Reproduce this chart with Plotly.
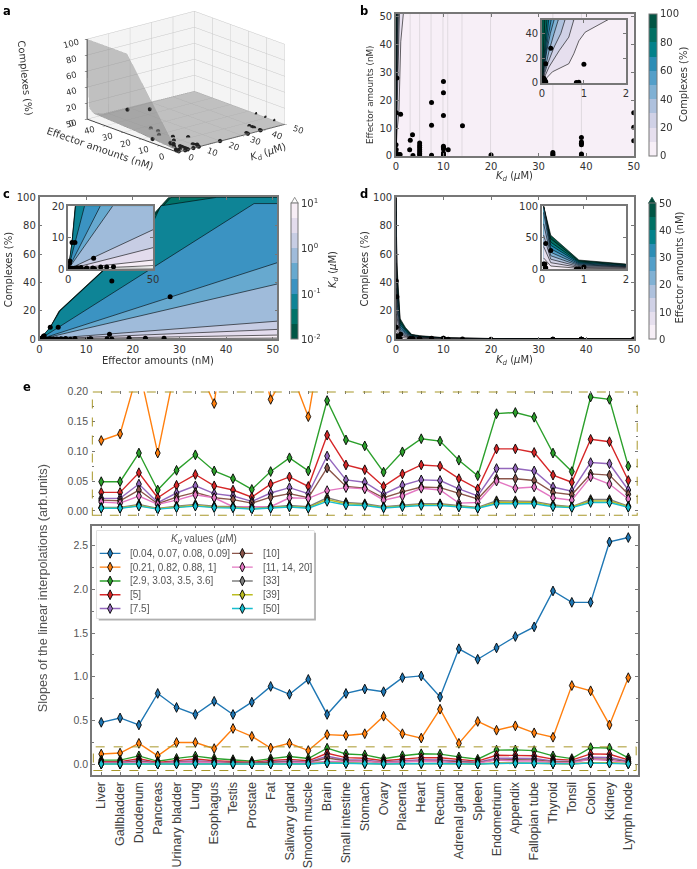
import plotly.graph_objects as go

W, H = 697, 869

# ---------- measured points (Kd, effector, complexes) ----------
kd_pts = [0.04, 0.07, 0.08, 0.09, 0.09, 0.21, 0.82, 0.88, 1, 2.9, 3.03, 3.5, 3.6, 5, 5, 5, 5, 5, 5, 5,
          7.5, 7.5, 7.5, 10, 10, 10, 10, 10, 10, 10, 10, 10, 11, 14, 20, 33, 33, 33, 39, 39, 39, 39, 39, 39, 50, 50, 50]
eff_pts = [4, 2.3, 1, 15.5, 0.8, 28, 0.4, 0.5, 15, 2.2, 5.6, 7.6, 0.1, 0.3, 0.8, 1.5, 2.2, 3, 3.7, 4.6,
           19.2, 11, 0.2, 26.7, 22.7, 14.5, 3.5, 3, 2.5, 1, 0.5, 0.2, 2.2, 10.8, 0.3, 1.2, 0.7, 0.3, 6.6, 5, 4.5, 4, 0.7, 0.4, 15.5, 10.3, 5.4]
cpx_pts = [8.5, 8.5, 2.6, 41, 2, 30, 0.4, 0.5, 3.5, 0.3, 0.5, 0.6, 0.02, 0.03, 0.06, 0.1, 0.15, 0.2, 0.3, 0.35,
           0.7, 0.4, 0.02, 0.8, 0.7, 0.4, 0.1, 0.1, 0.08, 0.03, 0.02, 0.01, 0.1, 0.25, 0.01, 0.03, 0.02, 0.01, 0.1, 0.08, 0.07, 0.06, 0.01, 0.01, 0.15, 0.1, 0.05]

# ---------- panel a surface ----------
surf_kd = [0.04, 0.21, 1, 3, 7.5, 50]
surf_eff = [0, 28, 51]
surf_z = [[0, 0, 0, 0, 0, 0],
          [100, 30, 6, 2, 1, 0.2],
          [100, 55, 13, 5, 2, 0.3]]

# ---------- panel b contour lines: Kd, effector ----------
b_lines = {
    10: ([0, 0.25, 0.64, 0.76, 0.88, 1.03, 1.57], [0, 9, 15.5, 23.6, 34, 41, 51]),
    20: ([0, 0.17, 0.41, 0.64, 0.76], [0, 13, 26, 37, 51]),
    30: ([0, 0.13, 0.29, 0.45, 0.55], [0, 15, 29, 40, 51]),
    40: ([0, 0.08, 0.17, 0.29, 0.39], [0, 13, 26, 40, 51]),
    50: ([0, 0.05, 0.11, 0.2, 0.29], [0, 12, 25, 40, 51]),
    60: ([0, 0.04, 0.09, 0.15, 0.22], [0, 10, 24, 38, 51]),
    70: ([0, 0.04, 0.07, 0.11, 0.16], [0, 12, 25, 38, 51]),
    80: ([0, 0.03, 0.06, 0.09, 0.12], [0, 15, 28, 40, 51]),
    90: ([0, 0.03, 0.05, 0.07], [0, 20, 35, 51]),
}
b_columns = [3, 5, 7.4, 9.9, 10.9, 13.9, 19.9, 33, 39]

# ---------- panel c contour lines: effector, complexes (top to bottom) ----------
c_lines = [
    ([0, 1, 2.3, 4.2, 13.4, 27.7, 51], [0, 3, 8.5, 20, 48, 100, 100]),
    ([0, 1, 2.3, 4.3, 13.5, 28.2, 51], [0, 3, 8.5, 20, 48, 100, 100]),
    ([0, 2.3, 4.4, 13.6, 24.7, 26, 38, 51], [0, 8.5, 20, 48, 85, 94, 100, 100]),
    ([0, 46, 51], [0, 95.6, 95.6]),
    ([0, 51], [0, 54]),
    ([0, 51], [0, 39]),
    ([0, 51], [0, 12.8]),
    ([0, 51], [0, 7]),
    ([0, 51], [0, 3]),
    ([0, 51], [0, 1.2]),
]
c_faint_x = [0, 51]
c_faint_y = [0.6, 0.3]

# ---------- panel d contour lines: complexes over Kd for each effector level ----------
d_kd = [0.04, 0.21, 0.88, 2, 3.3, 5, 10, 14, 20, 33, 50]
d_lines = {
    50: [100, 54, 14.7, 8.4, 3.5, 2.6, 1.2, 0.86, 0.6, 0.4, 0.25],
    45: [100, 48.5, 13.2, 7.6, 3.2, 2.3, 1.08, 0.77, 0.54, 0.36, 0.23],
    40: [100, 43, 11.8, 6.7, 2.8, 2.1, 0.96, 0.69, 0.48, 0.32, 0.2],
    35: [100, 38, 10.3, 5.9, 2.5, 1.8, 0.84, 0.6, 0.42, 0.28, 0.18],
    30: [100, 32.5, 8.8, 5, 2.1, 1.6, 0.72, 0.51, 0.36, 0.24, 0.15],
    25: [90, 27, 7.3, 4.2, 1.8, 1.3, 0.6, 0.43, 0.3, 0.2, 0.13],
    20: [72, 21.5, 5.9, 3.3, 1.4, 1.1, 0.48, 0.34, 0.24, 0.16, 0.1],
    15: [54, 16, 4.4, 2.5, 1.1, 0.8, 0.36, 0.26, 0.18, 0.12, 0.08],
    10: [36, 10.5, 3, 1.7, 0.7, 0.5, 0.24, 0.17, 0.12, 0.08, 0.05],
    5: [18, 5.2, 1.5, 0.8, 0.4, 0.3, 0.12, 0.08, 0.06, 0.04, 0.02],
}

# ---------- panel e ----------
tissues = ["Liver", "Gallbladder", "Duodenum", "Pancreas", "Urinary bladder", "Lung", "Esophagus", "Testis",
           "Prostate", "Fat", "Salivary gland", "Smooth muscle", "Brain", "Small intestine", "Stomach", "Ovary",
           "Placenta", "Heart", "Rectum", "Adrenal gland", "Spleen", "Endometrium", "Appendix", "Fallopian tube",
           "Thyroid", "Tonsil", "Colon", "Kidney", "Lymph node"]
s_blue = [.48, .53, .45, .81, .65, .57, .72, .57, .71, .89, .80, .97, .57, .81, .86, .83, .99, 1.01, .77, 1.32, 1.20, 1.33, 1.46, 1.57, 1.98, 1.85, 1.85, 2.54, 2.59]
s_orange = [.118, .129, .24, .097, .25, .25, .18, .41, .32, .187, .24, .158, .34, .33, .35, .55, .35, .30, .63, .24, .49, .39, .44, .36, .31, .90, .84, .45, .99]
s_green = [.049, .049, .097, .035, .068, .094, .067, .054, .036, .066, .089, .067, .185, .119, .109, .065, .099, .121, .117, .085, .059, .163, .165, .157, .097, .066, .191, .187, .075]
s_red = [.031, .031, .064, .022, .043, .061, .042, .035, .023, .045, .057, .041, .127, .077, .069, .041, .062, .077, .075, .054, .037, .104, .104, .098, .060, .048, .120, .116, .051]
s_purple = [.021, .021, .045, .014, .030, .042, .029, .025, .016, .030, .039, .029, .092, .052, .048, .028, .043, .052, .051, .037, .025, .071, .071, .067, .040, .033, .081, .079, .035]
s_brown = [.018, .017, .035, .012, .023, .031, .022, .019, .013, .023, .029, .022, .072, .041, .038, .022, .032, .040, .039, .029, .020, .054, .054, .051, .031, .027, .062, .060, .028]
s_pink = [.015, .013, .025, .011, .018, .027, .022, .007, .007, .007, .022, .021, .034, .039, .037, .018, .025, .038, .035, .013, .014, .050, .038, .040, .022, .018, .057, .045, .020]
s_gray = [.006, .006, .011, .004, .008, .011, .008, .007, .004, .007, .009, .007, .022, .014, .012, .007, .010, .012, .012, .009, .006, .017, .017, .016, .010, .007, .019, .019, .008]
s_olive = [.005, .005, .009, .0035, .0065, .009, .0065, .006, .0035, .0055, .0075, .0055, .019, .012, .0105, .006, .0085, .0105, .0105, .0075, .005, .0145, .0145, .014, .0085, .0065, .0165, .0165, .007]
s_cyan = [.0045, .0045, .008, .003, .0055, .008, .0055, .005, .003, .0045, .0065, .0045, .016, .010, .009, .005, .007, .009, .009, .0065, .0045, .012, .012, .012, .007, .0055, .014, .014, .006]
series = [("[0.04, 0.07, 0.08, 0.09]", "#1f77b4", s_blue), ("[0.21, 0.82, 0.88, 1]", "#ff7f0e", s_orange),
          ("[2.9, 3.03, 3.5, 3.6]", "#2ca02c", s_green), ("[5]", "#d62728", s_red), ("[7.5]", "#9467bd", s_purple),
          ("[10]", "#8c564b", s_brown), ("[11, 14, 20]", "#e377c2", s_pink), ("[33]", "#7f7f7f", s_gray),
          ("[39]", "#bcbd22", s_olive), ("[50]", "#17becf", s_cyan)]

# ---------- helpers ----------
PBG = ["#fff7fb", "#ece2f0", "#d0d1e6", "#a6bddb", "#67a9cf", "#3690c0", "#02818a", "#016c59", "#014636"]

def pubugn(t):
    p = min(t, 0.99999) * 8
    i = int(p)
    f = p - i
    a = [int(PBG[i][k:k + 2], 16) for k in (1, 3, 5)]
    b = [int(PBG[i + 1][k:k + 2], 16) for k in (1, 3, 5)]
    return "rgb(%d,%d,%d)" % tuple(round(u + (v - u) * f) for u, v in zip(a, b))

def band_colors(n, rev=False):
    c = [pubugn((i + .5) / n) for i in range(n)]
    return c[::-1] if rev else c

def stepped(cols):
    n = len(cols)
    out = []
    for i, c in enumerate(cols):
        out += [[i / n, c], [(i + 1) / n, c]]
    return out

fig = go.Figure()
DJ = "DejaVu Sans"
LB = "Liberation Sans"
INK = "#333333"
FRAME = "#777777"
ax_n = [0]

def axes(l, t, r, b, xr, yr, xt=None, yt=None, font=DJ, size=10, color=INK, **extra):
    ax_n[0] += 1
    n = ax_n[0]
    sx = "" if n == 1 else str(n)
    base = dict(showgrid=False, zeroline=False, showline=True, linecolor=FRAME, linewidth=1.5, mirror="ticks",
                ticks="inside", ticklen=3, tickwidth=0.8, tickcolor=FRAME, layer="above traces",
                tickfont=dict(family=font, size=size, color=color), fixedrange=True)
    xa = dict(base, domain=[l / W, r / W], range=xr, anchor="y" + sx)
    ya = dict(base, domain=[1 - b / H, 1 - t / H], range=yr, anchor="x" + sx)
    if xt is not None:
        xa.update(tickmode="array", tickvals=xt)
    if yt is not None:
        ya.update(tickmode="array", tickvals=yt)
    xa.update(extra.get("xextra", {}))
    ya.update(extra.get("yextra", {}))
    fig.layout["xaxis" + sx] = xa
    fig.layout["yaxis" + sx] = ya
    return "x" + sx, "y" + sx

def poly(xa, ya, x, y, fill, lw=0.6, lc="black"):
    fig.add_trace(go.Scatter(x=x, y=y, xaxis=xa, yaxis=ya, mode="lines", fill="toself", fillcolor=fill,
                             line=dict(color=lc, width=lw), hoverinfo="skip", showlegend=False))

def dots(xa, ya, x, y, size=5):
    fig.add_trace(go.Scatter(x=x, y=y, xaxis=xa, yaxis=ya, mode="markers", marker=dict(color="black", size=size),
                             hoverinfo="skip", showlegend=False))

def colorbar(xa, ya, cols, cmin, cmax, l, t, r, b, tvals, ttext=None):
    cb = dict(x=l / W, xanchor="left", y=1 - b / H, yanchor="bottom", len=(b - t) / H, lenmode="fraction",
              thickness=r - l, thicknessmode="pixels", xpad=0, ypad=0, outlinecolor=FRAME, outlinewidth=1,
              tickmode="array", tickvals=tvals, ticks="", tickfont=dict(family=DJ, size=10, color=INK))
    if ttext:
        cb["ticktext"] = ttext
    fig.add_trace(go.Scatter(x=[None, None], y=[None, None], xaxis=xa, yaxis=ya, mode="markers", hoverinfo="skip",
                             showlegend=False, marker=dict(color=[cmin, cmax], cmin=cmin, cmax=cmax, size=1,
                                                           colorscale=stepped(cols), showscale=True, colorbar=cb)))

annots = []
def label(px, py, text, size=10, font=DJ, color=INK, angle=0, bold=False):
    annots.append(dict(x=px / W, y=1 - py / H, xref="paper", yref="paper", text=("<b>%s</b>" % text) if bold else text,
                       showarrow=False, font=dict(family=font, size=size, color=color), textangle=angle,
                       xanchor="center", yanchor="middle"))

KD = "<i>K</i><sub><i>d</i></sub> (<i>µ</i>M)"

# ---------- panel b ----------
bcols = band_colors(10)
def draw_b(xa, ya, inset):
    poly(xa, ya, [-1, 60, 60, -1], [-5, -5, 60, 60], bcols[0], 0)
    if not inset:
        xs, ys = [], []
        for k in b_columns:
            xs += [k, k, None]
            ys += [0, 51, None]
        fig.add_trace(go.Scatter(x=xs, y=ys, xaxis=xa, yaxis=ya, mode="lines", hoverinfo="skip", showlegend=False,
                                 line=dict(color="rgba(150,150,150,0.3)", width=0.8)))
    for i, lvl in enumerate(sorted(b_lines)):
        kx, ey = b_lines[lvl]
        poly(xa, ya, kx + [-1, -1], ey + [60, -1], bcols[i + 1])
    dots(xa, ya, kd_pts, eff_pts)

bx, by = axes(398, 8, 639, 152, [0, 50], [0, 51], [0, 10, 20, 30, 40, 50], [0, 10, 20, 30, 40, 50])
draw_b(bx, by, False)
colorbar(bx, by, bcols, 0, 100, 654, 8, 662, 152, [0, 20, 40, 60, 80, 100])
bix, biy = axes(546, 14, 631, 78, [0, 2], [0, 51], [0, 1, 2], [0, 20, 40])
draw_b(bix, biy, True)

# ---------- panel c ----------
ccols = band_colors(9, rev=True)
def draw_c(xa, ya):
    poly(xa, ya, [-5, 70, 70, -5], [-5, -5, 130, 130], "white", 0)
    cseq = ccols + ["white"]
    for i, (ex, cy) in enumerate(c_lines):
        poly(xa, ya, ex + [70, 70, -5, -5], cy + [cy[-1], -5, -5, 0], cseq[i])
    fig.add_trace(go.Scatter(x=c_faint_x, y=c_faint_y, xaxis=xa, yaxis=ya, mode="lines", hoverinfo="skip",
                             showlegend=False, line=dict(color="#777", width=0.8)))
    dots(xa, ya, eff_pts, cpx_pts)

cx, cy_ = axes(37, 194, 278, 338, [0, 51], [0, 100], [0, 10, 20, 30, 40, 50], [0, 20, 40, 60, 80, 100])
draw_c(cx, cy_)
colorbar(cx, cy_, ccols, -2, 1, 292, 200, 299, 338, [-2, -1, 0, 1],
         ["10<sup>-2</sup>", "10<sup>-1</sup>", "10<sup>0</sup>", "10<sup>1</sup>"])
cix, ciy = axes(66, 203, 152, 267, [0, 50], [0, 20], [0, 50], [0, 10, 20])
draw_c(cix, ciy)

# ---------- panel d ----------
dcols = band_colors(10)
def draw_d(xa, ya):
    poly(xa, ya, [-5, 70, 70, -5], [-5, -5, 130, 130], "white", 0)
    for i, lvl in enumerate(sorted(d_lines, reverse=True)):
        cv = d_lines[lvl]
        poly(xa, ya, d_kd + [70, 70, d_kd[0]], cv + [cv[-1], -5, -5], dcols[9 - i])
    dots(xa, ya, kd_pts, cpx_pts)

dx, dy = axes(398, 194, 639, 338, [0, 50], [0, 100], [0, 10, 20, 30, 40, 50], [0, 20, 40, 60, 80, 100])
draw_d(dx, dy)
colorbar(dx, dy, dcols, 0, 50, 654, 200, 661, 338, [0, 10, 20, 30, 40, 50])
dix, diy = axes(546, 203, 631, 267, [0, 2], [0, 100], [0, 1, 2], [0, 50, 100])
draw_d(dix, diy)

# ---------- panel e ----------
EC = "#555555"
xpos = list(range(len(tissues)))
def draw_e(xa, ya):
    for name, col, vals in series:
        fig.add_trace(go.Scatter(x=xpos, y=vals, xaxis=xa, yaxis=ya, mode="lines+markers", name=name, showlegend=False,
                                 line=dict(color=col, width=1.4), hoverinfo="skip",
                                 marker=dict(symbol="diamond-tall", size=7, color=col, line=dict(color="black", width=0.9))))

ex1, ey1 = axes(90, 391, 643, 517, [-0.5, 28.5], [-0.0083, 0.2], xpos, [0, .05, .1, .15, .2], font=LB, size=10.5, color=EC,
                xextra=dict(showticklabels=False, linecolor="rgba(0,0,0,0)"),
                yextra=dict(linecolor="rgba(0,0,0,0)", tickformat=".2f", minor=dict(dtick=.025, ticks="inside", ticklen=2, tickcolor=FRAME)))
draw_e(ex1, ey1)
ex2, ey2 = axes(90, 527, 643, 780, [-0.5, 28.5], [-0.124, 2.725], xpos, [0, .5, 1, 1.5, 2, 2.5], font=LB, size=10.5, color=EC,
                xextra=dict(ticktext=tissues, tickangle=-90, tickfont=dict(family=LB, size=12.5, color="#404040")),
                yextra=dict(tickformat=".1f", minor=dict(dtick=.25, ticks="inside", ticklen=2, tickcolor=FRAME)))
draw_e(ex2, ey2)

# legend drawn inside its own box, positions in box pixels
leg_rows = [23, 37, 51, 65, 79]
lx, ly = axes(95, 532, 315, 621, [95, 315], [89, 0], [], [],
              xextra=dict(visible=False), yextra=dict(visible=False))
for i, (name, col, _) in enumerate(series):
    r = leg_rows[i % 5]
    x0 = 98 if i < 5 else 232
    fig.add_trace(go.Scatter(x=[x0, x0 + 10.5, x0 + 21], y=[r, r, r], xaxis=lx, yaxis=ly, mode="lines", hoverinfo="skip",
                             showlegend=False, line=dict(color=col, width=1.4)))
    fig.add_trace(go.Scatter(x=[x0 + 10.5], y=[r], xaxis=lx, yaxis=ly, mode="markers", hoverinfo="skip", showlegend=False,
                             marker=dict(symbol="diamond-tall", size=7, color=col, line=dict(color="black", width=0.9))))
    annots.append(dict(x=(x0 + 29) / W, y=1 - (532 + r) / H, xref="paper", yref="paper", text=name, showarrow=False,
                       xanchor="left", yanchor="middle", font=dict(family=LB, size=10, color=EC)))
label(204, 540.5, "<i>K</i><sub><i>d</i></sub> values (<i>µ</i>M)", size=10, font=LB, color=EC)

# ---------- panel a (3D) ----------
fig.add_trace(go.Surface(x=surf_kd, y=surf_eff, z=surf_z, showscale=False, opacity=0.5,
                         colorscale=[[0, "#8c8c8c"], [1, "#8c8c8c"]], hoverinfo="skip",
                         lighting=dict(ambient=1, diffuse=0, specular=0, roughness=1), scene="scene"))
fig.add_trace(go.Scatter3d(x=kd_pts, y=eff_pts, z=cpx_pts, mode="markers", marker=dict(size=2.5, color="#222"),
                           hoverinfo="skip", showlegend=False, scene="scene"))
def a_axis(rng, tv):
    return dict(title=dict(text=""), range=rng, tickmode="array", tickvals=tv,
                tickfont=dict(family=DJ, size=10, color=INK), showbackground=True, backgroundcolor="#f4f4f4",
                gridcolor="#c8c8c8", gridwidth=1, showline=True, linecolor="#444", linewidth=2, ticks="outside",
                ticklen=3, tickcolor="#333", zeroline=False, showspikes=False)
label(22, 73, "Complexes (%)", angle=84)
label(98, 145, "Effector amounts (nM)", angle=19)
label(269, 149, KD, angle=-18)

# ---------- shapes ----------
shapes = [
    dict(type="rect", xref="paper", yref="paper", x0=97 / W, x1=317 / W, y0=1 - 623 / H, y1=1 - 534 / H,
         fillcolor="#b0b0b0", line=dict(width=0), layer="below"),
    dict(type="rect", xref="paper", yref="paper", x0=95 / W, x1=315 / W, y0=1 - 621 / H, y1=1 - 532 / H,
         fillcolor="white", line=dict(color="#cccccc", width=1), layer="below"),
    dict(type="rect", xref=ex1, yref=ey1, x0=-0.5, x1=28.5, y0=-0.0083, y1=0.2, line=dict(color="#a8972a", width=2, dash="dash"), layer="above"),
    dict(type="rect", xref=ex2, yref=ey2, x0=-0.42, x1=28.42, y0=-0.07, y1=0.2, line=dict(color="#a8972a", width=1, dash="dash"), layer="above"),
    dict(type="path", xref="paper", yref="paper", path="M %f %f L %f %f L %f %f Z" % (292 / W, 1 - 200 / H, 295.5 / W, 1 - 194 / H, 299 / W, 1 - 200 / H),
         fillcolor="white", line=dict(color=FRAME, width=0.8)),
    dict(type="path", xref="paper", yref="paper", path="M %f %f L %f %f L %f %f Z" % (654 / W, 1 - 200 / H, 657.5 / W, 1 - 194 / H, 661 / W, 1 - 200 / H),
         fillcolor="#014636", line=dict(color="#014636", width=0.8)),
]

# ---------- text ----------
label(518, 173, KD); label(372, 90, "Effector amounts (nM)", angle=-90, size=8.8)
label(690, 80, "Complexes (%)", angle=-90)
label(157, 359, "Effector amounts (nM)"); label(5, 267, "Complexes (%)", angle=-90)
label(335, 267, KD, angle=-90)
label(518, 359, KD); label(366, 267, "Complexes (%)", angle=-90)
label(685, 265, "Effector amounts (nM)", angle=-90)
label(40, 590, "Slopes of the linear interpolations (arb.units)", size=12.7, font=LB, color=EC, angle=-90)
for t, px, py in [("a", 4, 5), ("b", 366, 5), ("c", 4, 191), ("d", 366, 191), ("e", 24, 386)]:
    label(px, py, t, size=11.5, color="black", bold=True)

fig.update_layout(
    width=W, height=H, margin=dict(l=0, r=0, t=0, b=0), paper_bgcolor="white", plot_bgcolor="white", showlegend=False,
    shapes=shapes, annotations=annots,
    scene=dict(domain=dict(x=[25 / W, 345 / W], y=[1 - 190 / H, 1.0]),
               xaxis=a_axis([0, 50], [0, 10, 20, 30, 40, 50]),
               yaxis=a_axis([0, 50], [0, 10, 20, 30, 40, 50]),
               zaxis=a_axis([0, 100], [0, 20, 40, 60, 80, 100]),
               aspectmode="manual", aspectratio=dict(x=1.5, y=1.5, z=0.9),
               camera=dict(eye=dict(x=-1.29, y=-1.53, z=0.45), center=dict(x=0, y=0, z=-0.2), up=dict(x=0, y=0, z=1),
                           projection=dict(type="orthographic"))),
)
fig.write_html("out.html", config=dict(displayModeBar=False),
               post_script="document.body.style.margin='0';document.body.style.overflow='hidden';")
